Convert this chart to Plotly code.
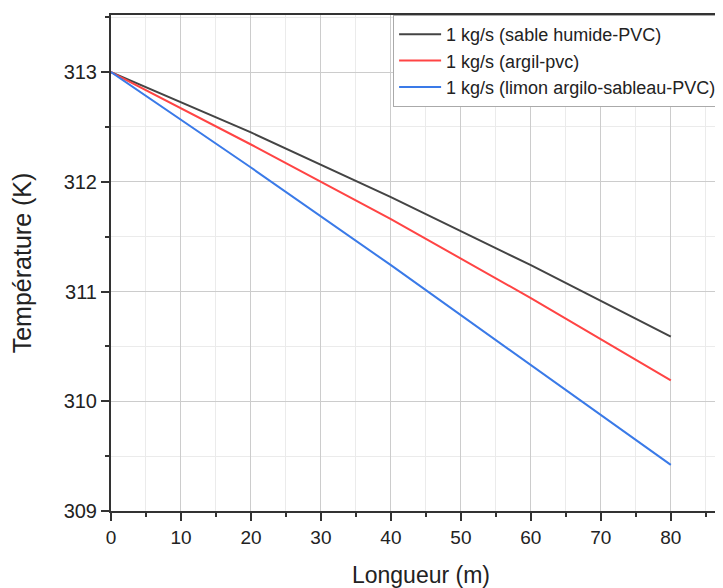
import plotly.graph_objects as go

longueur = [0, 20, 40, 60, 80]
t_sable = [313.0, 312.45, 311.86, 311.24, 310.59]
t_argil = [313.0, 312.34, 311.66, 310.94, 310.19]
t_limon = [313.0, 312.13, 311.24, 310.33, 309.42]

names = ["1 kg/s (sable humide-PVC)", "1 kg/s (argil-pvc)", "1 kg/s (limon argilo-sableau-PVC)"]
colors = ["#444444", "#ff4444", "#3a7ae8"]
series = [t_sable, t_argil, t_limon]

fig = go.Figure()
for n, c, s in zip(names, colors, series):
    fig.add_trace(go.Scatter(x=longueur, y=s, mode="lines", name=n,
                             line=dict(color=c, width=2)))

font = "Liberation Sans, Arial, sans-serif"
fig.update_layout(
    width=723, height=588,
    margin=dict(l=103, r=0, t=7, b=85, autoexpand=False),
    paper_bgcolor="white", plot_bgcolor="white",
    font=dict(family=font, color="#222222"),
    showlegend=True,
    legend=dict(x=0.455, y=1.0, xanchor="left", yanchor="top",
                bgcolor="white", bordercolor="#aaaaaa", borderwidth=1,
                font=dict(size=18, family=font, color="#222222"),
                tracegroupgap=0, itemwidth=42),
    xaxis=dict(range=[0, 88.6], tickmode="linear", tick0=0, dtick=10,
               ticks="outside", ticklen=8, tickwidth=1.5, tickcolor="#333",
               showline=True, linecolor="#333", linewidth=2, mirror=True,
               showgrid=True, gridcolor="#cccccc", gridwidth=1,
               minor=dict(dtick=5, ticks="outside", ticklen=4, tickcolor="#333",
                          showgrid=True, gridcolor="#ebebeb"),
               tickfont=dict(size=19), zeroline=False, automargin=False,
               title=dict(text="Longueur (m)", font=dict(size=23), standoff=20)),
    yaxis=dict(range=[309, 313.52], tickmode="linear", tick0=309, dtick=1,
               ticks="outside", ticklen=8, tickwidth=1.5, tickcolor="#333",
               showline=True, linecolor="#333", linewidth=2,
               showgrid=True, gridcolor="#cccccc", gridwidth=1,
               minor=dict(dtick=0.5, ticks="outside", ticklen=4, tickcolor="#333",
                          showgrid=True, gridcolor="#ebebeb"),
               tickfont=dict(size=20), zeroline=False, automargin=False,
               title=dict(text="Température (K)", font=dict(size=25), standoff=27)),
)
fig.write_html("out.html")
